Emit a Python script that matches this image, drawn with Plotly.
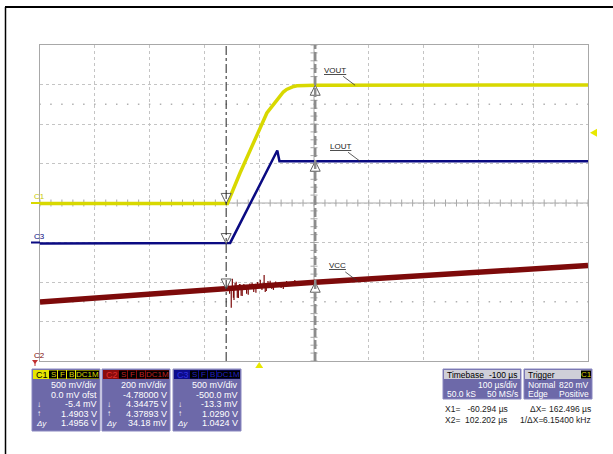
import numpy as np
import plotly.graph_objects as go

W, H = 613, 454

# ---------------- data (time in us, values in volts) ----------------
c1_t = [-400, -58, -35, -16, -1, 14, 32, 38, 44, 50, 57, 63, 69, 80, 102.202, 600]
c1_v = [-0.0054, -0.0054, 0.38, 0.675, 0.93, 1.14, 1.30, 1.36, 1.405, 1.438, 1.46, 1.475,
        1.483, 1.488, 1.4903, 1.495]

c3_t = [-400, -60, -53, 33, 37, 600]
c3_v = [-0.0133, -0.0133, -0.005, 1.164, 1.029, 1.029]

c2_t = [-400, -60.294, 102.202, 600]
c2_v = [4.279, 4.34475, 4.37893, 4.463]

# noise spikes on C2 (VCC)
c2_spike_t = [-57, -54, -51, -49, -47, -46, -44, -42, -40, -38, -36, -35, -33, -31, -28, -26,
              -23, -20, -17, -13, -10, -6, -3, 2, 5, 9, 11, 13, 16, 20, 23, 26, 30, 35, 40,
              44, 50, 57, 65]
c2_spike_v = [4.37, 4.32, 4.249, 4.396, 4.30, 4.289, 4.375, 4.381, 4.30, 4.299, 4.37, 4.370,
              4.31, 4.309, 4.37, 4.360, 4.32, 4.315, 4.372, 4.376, 4.33, 4.325, 4.38, 4.391,
              4.34, 4.416, 4.33, 4.335, 4.385, 4.386, 4.345, 4.340, 4.383, 4.376, 4.35,
              4.345, 4.385, 4.376, 4.39]

# channel settings
ch_scale = {"C1": 0.5, "C2": 0.2, "C3": 0.5}      # V/div
ch_offset = {"C1": 0.0, "C2": -4.78, "C3": -0.5}  # V

# cursors
x1, x2 = -60.294, 102.202
c1_cur = [-0.0054, 1.4903]
c2_cur = [4.34475, 4.37893]
c3_cur = [-0.0133, 1.0290]

trig_time = 0
trig_marker_div = 1.78

# panel texts
c1_rows = ["500 mV/div", "0.0 mV ofst", "-5.4 mV", "1.4903 V", "1.4956 V"]
c2_rows = ["200 mV/div", "-4.78000 V", "4.34475 V", "4.37893 V", "34.18 mV"]
c3_rows = ["500 mV/div", "-500.0 mV", "-13.3 mV", "1.0290 V", "1.0424 V"]


def div(ch, v):
    return (np.asarray(v, dtype=float) + ch_offset[ch]) / ch_scale[ch]


YEL = "#d8d800"
RED = "#7d0a0a"
BLU = "#0a0a82"
BOX = "#6d69a9"

fig = go.Figure()

# minor tick marks on center lines
tx = np.arange(-400, 601, 20)
fig.add_trace(go.Scatter(x=tx, y=[0] * len(tx), mode="markers",
                         marker=dict(symbol="line-ns", size=5, line=dict(color="#a8a8a8", width=1)),
                         hoverinfo="skip", showlegend=False))
ty = np.arange(-4, 4.01, 0.2)
fig.add_trace(go.Scatter(x=[100] * len(ty), y=ty, mode="markers",
                         marker=dict(symbol="line-ew", size=5, line=dict(color="#a8a8a8", width=1)),
                         hoverinfo="skip", showlegend=False))
for yy in (2.5, -2.5):
    fig.add_trace(go.Scatter(x=tx, y=[yy] * len(tx), mode="markers",
                             marker=dict(symbol="square", size=1.5, color="#b0b0b0"),
                             hoverinfo="skip", showlegend=False))

# traces
fig.add_trace(go.Scatter(x=c2_t, y=div("C2", c2_v), mode="lines",
                         line=dict(color=RED, width=5.5), hoverinfo="skip", showlegend=False))
sx, sy = [], []
for t, v in zip(c2_spike_t, c2_spike_v):
    base = np.interp(t, c2_t, c2_v)
    sx += [t, t, None]
    sy += [float(div("C2", base)), float(div("C2", v)), None]
fig.add_trace(go.Scatter(x=sx, y=sy, mode="lines", line=dict(color=RED, width=1.2),
                         hoverinfo="skip", showlegend=False))

fig.add_trace(go.Scatter(x=c3_t, y=div("C3", c3_v), mode="lines",
                         line=dict(color=BLU, width=2.5), hoverinfo="skip", showlegend=False))
fig.add_trace(go.Scatter(x=c1_t, y=div("C1", c1_v), mode="lines",
                         line=dict(color=YEL, width=3.5), hoverinfo="skip", showlegend=False))

# cursor arrows
for ch, vals in (("C1", c1_cur), ("C2", c2_cur), ("C3", c3_cur)):
    fig.add_trace(go.Scatter(x=[x1], y=[float(div(ch, vals[0]))], mode="markers",
                             marker=dict(symbol="arrow-down", size=10, color="white",
                                         line=dict(color="#606060", width=1)),
                             hoverinfo="skip", showlegend=False))
    fig.add_trace(go.Scatter(x=[x2], y=[float(div(ch, vals[1]))], mode="markers",
                             marker=dict(symbol="arrow-up", size=10, color="white",
                                         line=dict(color="#606060", width=1)),
                             hoverinfo="skip", showlegend=False))

shapes = []
ann = []


def px(x):
    return x / W


def py(y):
    return 1 - y / H


US_PER_PX = 1000 / 548.0

# trigger time marker (below grid) : x in data, y in paper
tt0 = trig_time
shapes.append(dict(type="path", xref="x", yref="paper",
                   path=f"M {tt0 - 4 * US_PER_PX},{py(368)} L {tt0 + 4 * US_PER_PX},{py(368)} L {tt0},{py(362)} Z",
                   fillcolor="#e8e800", line=dict(width=0)))
# trigger level marker (right of grid): x in paper, y in data
DIV_PER_PX = 8 / 316.0
shapes.append(dict(type="path", xref="paper", yref="y",
                   path=f"M {px(597)},{trig_marker_div + 4 * DIV_PER_PX} L {px(597)},{trig_marker_div - 4 * DIV_PER_PX} L {px(590)},{trig_marker_div} Z",
                   fillcolor="#e8e800", line=dict(width=0)))
# C2 off-screen arrow
shapes.append(dict(type="path", xref="paper", yref="paper",
                   path=f"M {px(32)},{py(360)} L {px(38)},{py(360)} L {px(35)},{py(364)} Z",
                   fillcolor="#c03030", line=dict(width=0)))
shapes.append(dict(type="line", xref="paper", yref="paper", x0=px(35), x1=px(35), y0=py(361), y1=py(366),
                   line=dict(color="#c03030", width=1)))

# frame
shapes.append(dict(type="line", xref="paper", yref="paper", x0=px(5), x1=1, y0=py(7), y1=py(7),
                   line=dict(color="black", width=2)))
shapes.append(dict(type="line", xref="paper", yref="paper", x0=px(5.5), x1=px(5.5), y0=py(7), y1=0,
                   line=dict(color="black", width=1.5)))

# center lines
shapes.append(dict(type="line", xref="x", yref="y", x0=-400, x1=600, y0=0, y1=0,
                   line=dict(color="#a8a8a8", width=1), layer="below"))
shapes.append(dict(type="line", xref="x", yref="y", x0=100, x1=100, y0=-4, y1=4,
                   line=dict(color="#a8a8a8", width=1), layer="below"))
# cursors
shapes.append(dict(type="line", xref="x", yref="y", x0=x1, x1=x1, y0=-4, y1=4,
                   line=dict(color="#202020", width=1, dash="dashdot")))
shapes.append(dict(type="line", xref="x", yref="y", x0=x2, x1=x2, y0=-4, y1=4,
                   line=dict(color="#8c8c8c", width=2.5, dash="9px,3px")))

# ground markers on left
shapes.append(dict(type="line", xref="paper", yref="y", x0=px(31), x1=px(40), y0=0, y1=0,
                   line=dict(color=YEL, width=2)))
shapes.append(dict(type="line", xref="paper", yref="y", x0=px(31), x1=px(40),
                   y0=float(div("C3", 0)), y1=float(div("C3", 0)), line=dict(color=BLU, width=2)))


def txt(x, y, s, anchor="left", color="white", size=9, yanchor="middle", family="Liberation Sans"):
    ann.append(dict(xref="paper", yref="paper", x=px(x), y=py(y), text=s, showarrow=False,
                    xanchor=anchor, yanchor=yanchor, font=dict(family=family, size=size, color=color)))


txt(32, 197, "C1", color="#c8c800", size=8)
txt(32, 237, "C3", color=BLU, size=8)
txt(32, 355, "C2", color=RED, size=8)

# labels with leaders
for label, ch, t, v in (("VOUT", "C1", 175, 1.4903), ("LOUT", "C3", 184, 1.029), ("VCC", "C2", 179, 4.3855)):
    ann.append(dict(xref="x", yref="y", x=t, y=float(div(ch, v)), ax=-20, ay=-15,
                    text="<u>" + label + "</u>", showarrow=True, arrowhead=0, arrowwidth=0.8,
                    arrowcolor="#333333", standoff=0,
                    font=dict(family="Liberation Sans", size=8, color="#222222")))


def rect(x0, y0, x1_, y1_, color, line=None):
    shapes.append(dict(type="rect", xref="paper", yref="paper", x0=px(x0), x1=px(x1_),
                       y0=py(y1_), y1=py(y0), fillcolor=color,
                       line=dict(width=0) if line is None else line))


row_y = [385, 394.5, 404, 413.5, 423]
for left, name, hdr, hdr_txt, rows in ((32, "C1", "#e6e600", "black", c1_rows),
                                        (102, "C2", "#8a0c0c", "#e03030", c2_rows),
                                        (173, "C3", "#0c0c8a", "#3030e0", c3_rows)):
    right = left + 68
    rect(left, 369, right, 431, BOX, line=dict(color="#8a88c0", width=1))
    rect(left + 1, 370, right - 1, 379, hdr)
    txt(left + 2, 374.5, name, color=hdr_txt, size=9)
    box_txt = YEL if name == "C1" else ("#c02020" if name == "C2" else "#2020c0")
    for a, b, s in ((17, 25, "S"), (26, 34, "F"), (35, 43, "B"), (44, 67, "DC1M")):
        rect(left + a, 370.5, left + b, 378.5, "black")
        txt(left + (a + b) / 2, 374.5, s, anchor="center", color=box_txt, size=8)
    for i, r in enumerate(rows):
        txt(right - 1, row_y[i], r, anchor="right", size=9)
    txt(left + 3, row_y[2], "↓", size=8)
    txt(left + 3, row_y[3], "↑", size=8)
    txt(left + 2, row_y[4], "<i>Δy</i>", size=8)

# timebase / trigger boxes
rect(443, 369, 521, 399, BOX, line=dict(color="#8a88c0", width=1))
rect(444, 370, 520, 379, "#cfcfd8")
txt(445, 374.5, "Timebase", color="black", size=8.5)
txt(520, 374.5, "-100 µs", anchor="right", color="black", size=8.5)
txt(520, 384.5, "100 µs/div", anchor="right", size=8.5)
txt(445, 393.5, "50.0 kS", size=8.5)
txt(520, 393.5, "50 MS/s", anchor="right", size=8.5)

rect(524, 369, 592, 399, BOX, line=dict(color="#8a88c0", width=1))
rect(525, 370, 591, 379, "#cfcfd8")
txt(526, 374.5, "Trigger", color="black", size=8.5)
rect(581, 370.5, 591, 378.5, "black")
txt(586, 374.5, "C1", anchor="center", color=YEL, size=8)
txt(526, 384.5, "Normal", size=8.5)
txt(591, 384.5, "820 mV", anchor="right", size=8.5)
txt(526, 393.5, "Edge", size=8.5)
txt(591, 393.5, "Positive", anchor="right", size=8.5)

# cursor readouts
txt(443, 409, "X1=   -60.294 µs", color="#222222", size=8.5)
txt(528, 409, "ΔX=", color="#222222", size=8.5)
txt(593, 409, "162.496 µs", anchor="right", color="#222222", size=8.5)
txt(443, 420, "X2=  102.202 µs", color="#222222", size=8.5)
txt(518, 420, "1/ΔX=", color="#222222", size=8.5)
txt(593, 420, "6.15400 kHz", anchor="right", color="#222222", size=8.5)

fig.update_layout(
    width=W, height=H, margin=dict(l=0, r=0, t=0, b=0),
    paper_bgcolor="white", plot_bgcolor="white",
    showlegend=False, shapes=shapes, annotations=ann,
    xaxis=dict(domain=[40 / W, 588 / W], range=[-400, 600], tick0=-400, dtick=100,
               showgrid=True, gridcolor="#c4c4c4", griddash="dot", gridwidth=1,
               showticklabels=False, ticks="", zeroline=False,
               showline=True, mirror=True, linecolor="#a8a8a8", linewidth=1, fixedrange=True),
    yaxis=dict(domain=[1 - 361 / H, 1 - 45 / H], range=[-4, 4], tick0=-4, dtick=1,
               showgrid=True, gridcolor="#c4c4c4", griddash="dot", gridwidth=1,
               showticklabels=False, ticks="", zeroline=False,
               showline=True, mirror=True, linecolor="#a8a8a8", linewidth=1, fixedrange=True),
)

fig.write_html("out.html", config={"displayModeBar": False},
               post_script="document.body.style.margin='0';document.body.style.overflow='hidden';")
